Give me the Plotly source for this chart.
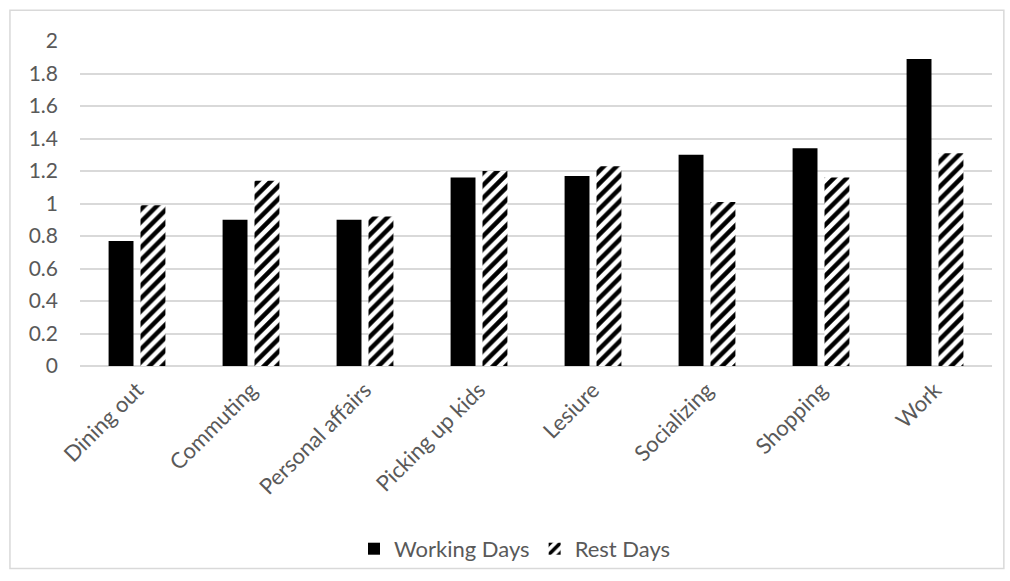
import plotly.graph_objects as go

categories = ["Dining out", "Commuting", "Personal affairs", "Picking up kids",
              "Lesiure", "Socializing", "Shopping", "Work"]
working_days = [0.77, 0.90, 0.90, 1.16, 1.17, 1.30, 1.34, 1.89]
rest_days = [0.99, 1.14, 0.92, 1.20, 1.23, 1.01, 1.16, 1.31]
y_ticks = [0, 0.2, 0.4, 0.6, 0.8, 1, 1.2, 1.4, 1.6, 1.8, 2]

fig = go.Figure()
fig.add_trace(go.Bar(
    x=categories, y=working_days, name="Working Days",
    marker=dict(color="black", line=dict(width=0)),
))
fig.add_trace(go.Bar(
    x=categories, y=rest_days, name="Rest Days",
    marker=dict(color="white", line=dict(width=0),
                pattern=dict(shape="/", fgcolor="black", bgcolor="white",
                             size=9, solidity=0.5, fillmode="replace")),
))

font_color = "#595959"
fig.update_layout(
    width=1010, height=581,
    margin=dict(l=80, r=18, t=41, b=214),
    paper_bgcolor="white", plot_bgcolor="white",
    barmode="group", bargap=0.44, bargroupgap=0.22,
    font=dict(family="Lato, Open Sans, sans-serif", size=20, color=font_color),
    showlegend=True,
    legend=dict(orientation="h", x=0.477, xanchor="center", y=-0.558, yanchor="middle",
                font=dict(size=22, color=font_color), itemwidth=30,
                bgcolor="rgba(0,0,0,0)", traceorder="normal"),
    xaxis=dict(tickangle=-45, showgrid=False, showline=False, ticks="",
               ticklabelstandoff=6,
               tickfont=dict(size=22, color=font_color)),
    yaxis=dict(range=[0, 2], tickvals=y_ticks, ticktext=[f"{v:g}" for v in y_ticks],
               showgrid=True, gridcolor="#d9d9d9", gridwidth=1.5,
               zeroline=True, zerolinecolor="#d9d9d9", zerolinewidth=1.5,
               showline=False, ticks="", ticklabelstandoff=21,
               tickfont=dict(size=21, color=font_color)),
    shapes=[dict(type="rect", xref="paper", yref="paper",
                 x0=-0.0768, x1=1.013, y0=-0.623, y1=1.095,
                 line=dict(color="#d9d9d9", width=1.5), fillcolor="rgba(0,0,0,0)",
                 layer="above")],
)

fig.write_html("out.html")
